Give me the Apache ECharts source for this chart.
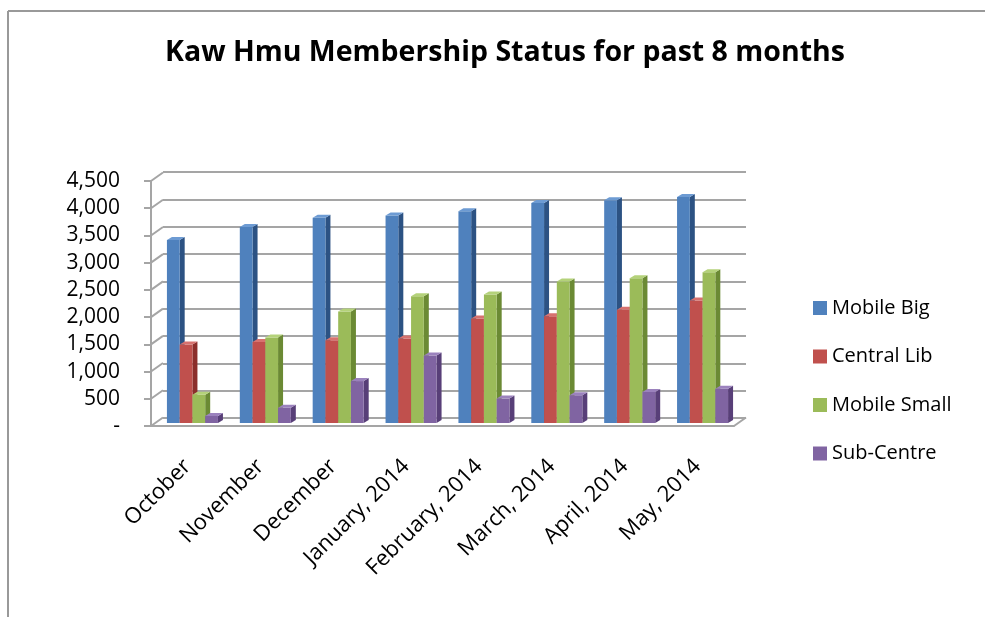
<!DOCTYPE html>
<html>
<head>
<meta charset="utf-8">
<script src="https://cdn.jsdelivr.net/npm/echarts@6/dist/echarts.min.js"></script>
<style>
  body { margin: 0; background: #fff; }
  #chart { width: 985px; height: 617px; }
</style>
</head>
<body>
<div id="chart"></div>
<script>
var months = ['October', 'November', 'December', 'January, 2014', 'February, 2014', 'March, 2014', 'April, 2014', 'May, 2014'];
var seriesNames = ['Mobile Big', 'Central Lib', 'Mobile Small', 'Sub-Centre'];
var mobileBig = [3360, 3600, 3770, 3810, 3890, 4040, 4090, 4150];
var centralLib = [1440, 1490, 1520, 1550, 1920, 1960, 2080, 2250];
var mobileSmall = [520, 1570, 2050, 2330, 2360, 2600, 2660, 2770];
var subCentre = [130, 280, 770, 1240, 450, 510, 570, 630];
var yTicks = [0, 500, 1000, 1500, 2000, 2500, 3000, 3500, 4000, 4500];

var colors = ['#4F81BD', '#C0504D', '#9BBB59', '#8064A2'];
var sideColors = ['#2c5283', '#8b2e2b', '#6b8a34', '#583f78'];
var topColors = ['#6d9bd3', '#d7726f', '#b4d27a', '#9b82bd'];
var fontFam = '"Open Sans", sans-serif';
var gridCol = '#a5a5a5';

var chartDom = document.getElementById('chart');
var myChart = echarts.init(chartDom);

// 3D-looking bar: front face + right side + top
function barItem(s) {
  return function (params, api) {
    var i = api.value(0), v = api.value(1);
    var base = api.coord([i, 0]);
    var top = api.coord([i, v]);
    var bandW = api.size([1, 0])[0];
    var w = bandW * 0.175;
    var x0 = base[0] - 2 * w + s * w;
    var dx = 5, dy = 3;
    return {
      type: 'group',
      children: [
        { type: 'polygon', shape: { points: [[x0 + w, top[1]], [x0 + w + dx, top[1] - dy], [x0 + w + dx, base[1] - dy], [x0 + w, base[1]]] }, style: { fill: sideColors[s] } },
        { type: 'rect', shape: { x: x0, y: top[1], width: w, height: base[1] - top[1] }, style: { fill: colors[s] } },
        { type: 'polygon', shape: { points: [[x0, top[1]], [x0 + dx, top[1] - dy], [x0 + w + dx, top[1] - dy], [x0 + w, top[1]]] }, style: { fill: topColors[s] } }
      ]
    };
  };
}

function diagItem(params, api) {
  var t = api.value(0);
  var p = api.coord([0, t]);
  var half = api.size([1, 0])[0] / 2;
  var x = p[0] - half;
  return { type: 'line', shape: { x1: x, y1: p[1], x2: x + 12, y2: p[1] - 8.5 }, style: { stroke: gridCol, lineWidth: 2 } };
}

function floorItem(params, api) {
  var p = api.coord([months.length - 1, 0]);
  var half = api.size([1, 0])[0] / 2;
  var x = p[0] + half;
  return { type: 'line', shape: { x1: x, y1: p[1], x2: x + 12, y2: p[1] - 8.5 }, style: { stroke: gridCol, lineWidth: 2 } };
}

var allData = [mobileBig, centralLib, mobileSmall, subCentre];

var series = allData.map(function (arr, s) {
  return {
    name: seriesNames[s],
    type: 'custom',
    xAxisIndex: 2, yAxisIndex: 2,
    itemStyle: { color: colors[s] },
    renderItem: barItem(s),
    encode: { x: 0, y: 1 },
    data: arr.map(function (v, i) { return [i, v]; }),
    z: 5
  };
});
series.push({
  type: 'custom', xAxisIndex: 1, yAxisIndex: 1,
  renderItem: diagItem, encode: { y: 0 },
  data: yTicks.map(function (t) { return [t]; }), z: 3, silent: true
});
series.push({
  type: 'custom', xAxisIndex: 1, yAxisIndex: 1,
  renderItem: floorItem, encode: { y: 0 },
  data: [[0]], z: 3, silent: true
});

var option = {
  animation: false,
  title: {
    text: 'Kaw Hmu Membership Status for past 8 months',
    left: 160, top: 33,
    textStyle: { fontFamily: fontFam, fontWeight: 'bold', fontSize: 28.5, color: '#000' }
  },
  legend: {
    orient: 'vertical', left: 808, top: 293,
    icon: 'rect', itemWidth: 14, itemHeight: 14, itemGap: 28.5,
    data: seriesNames,
    textStyle: { fontFamily: fontFam, fontSize: 20, color: '#000' }
  },
  graphic: [
    { type: 'line', shape: { x1: 8, y1: 11, x2: 985, y2: 11 }, style: { stroke: '#999', lineWidth: 2 } },
    { type: 'line', shape: { x1: 8, y1: 11, x2: 8, y2: 617 }, style: { stroke: '#999', lineWidth: 2 } }
  ],
  grid: [
    { left: 163, right: 239, top: 172, bottom: 199 },
    { left: 151, right: 251, top: 181, bottom: 191 },
    { left: 156, right: 246, top: 178, bottom: 194 }
  ],
  xAxis: [
    { type: 'category', gridIndex: 0, data: months, show: false },
    { type: 'category', gridIndex: 1, data: months,
      axisLine: { lineStyle: { color: gridCol, width: 2 } },
      axisTick: { length: 7, lineStyle: { color: gridCol, width: 2 } },
      axisLabel: { rotate: 45, margin: 37, fontFamily: fontFam, fontSize: 22, color: '#000', interval: 0 } },
    { type: 'category', gridIndex: 2, data: months, show: false }
  ],
  yAxis: [
    { type: 'value', gridIndex: 0, min: 0, max: 4500, interval: 500,
      axisLine: { show: false }, axisTick: { show: false }, axisLabel: { show: false },
      splitLine: { lineStyle: { color: gridCol, width: 2 } } },
    { type: 'value', gridIndex: 1, min: 0, max: 4500, interval: 500,
      axisLine: { show: true, lineStyle: { color: gridCol, width: 2 } },
      axisTick: { show: true, length: 7, lineStyle: { color: gridCol, width: 2 } },
      splitLine: { show: false },
      axisLabel: { margin: 31, fontFamily: fontFam, fontSize: 21, color: '#000',
        formatter: function (v) { return v === 0 ? '-' : v.toLocaleString('en-US'); } } },
    { type: 'value', gridIndex: 2, min: 0, max: 4500, interval: 500, show: false, splitLine: { show: false } }
  ],
  series: series
};

option && myChart.setOption(option);
</script>
</body>
</html>
